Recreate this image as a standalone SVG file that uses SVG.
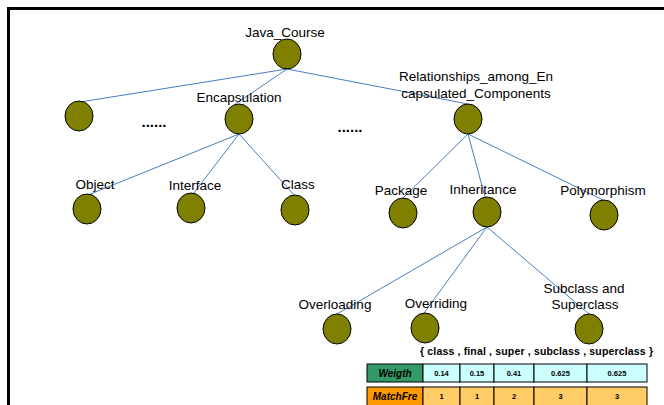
<svg xmlns="http://www.w3.org/2000/svg" width="664" height="405" viewBox="0 0 664 405">
<defs>
<style>
.n{fill:#808000;stroke:#000;stroke-width:1}
.t{font-family:"Liberation Sans",Arial,sans-serif;font-size:13.5px;fill:#000}
.c{stroke:#4a7ebb;stroke-width:1;fill:none}
.cell{stroke:#000;stroke-width:1}
.hd{font-family:"Liberation Sans",Arial,sans-serif;font-size:10px;font-weight:bold;font-style:italic;fill:#000}
.v{font-family:"Liberation Sans",Arial,sans-serif;font-size:7.5px;font-weight:bold;fill:#000}
.set{font-family:"Liberation Sans",Arial,sans-serif;font-size:10.5px;font-weight:bold;fill:#000}
.dot{font-family:"Liberation Sans",Arial,sans-serif;font-size:15px;font-weight:bold;fill:#000}
</style>
</defs>
<rect width="664" height="405" fill="#fff"/>
<path d="M8.5,405 V8.5 H664" fill="none" stroke="#000" stroke-width="3"/>
<g id="connectors">
<line class="c" x1="287" y1="69" x2="80" y2="102"/>
<line class="c" x1="287" y1="69" x2="234" y2="105"/>
<line class="c" x1="287" y1="69" x2="468" y2="104"/>
<line class="c" x1="239" y1="134" x2="88" y2="195"/>
<line class="c" x1="239" y1="134" x2="193" y2="194"/>
<line class="c" x1="239" y1="134" x2="295" y2="196"/>
<line class="c" x1="468" y1="134" x2="403" y2="198"/>
<line class="c" x1="468" y1="134" x2="485" y2="197"/>
<line class="c" x1="468" y1="134" x2="603" y2="200"/>
<line class="c" x1="487" y1="227" x2="337" y2="314"/>
<line class="c" x1="487" y1="227" x2="424" y2="313"/>
<line class="c" x1="487" y1="227" x2="589" y2="314"/>
</g>
<g id="java_course"><ellipse class="n" cx="287" cy="54" rx="14" ry="15"/><text class="t" x="285" y="37" text-anchor="middle">Java_Course</text></g>
<g id="unnamed"><ellipse class="n" cx="79" cy="116" rx="14" ry="15"/></g>
<g id="dots1"><text class="dot" x="154" y="127" text-anchor="middle">......</text></g>
<g id="encapsulation"><ellipse class="n" cx="239" cy="119" rx="14" ry="15"/><text class="t" x="239" y="102" text-anchor="middle">Encapsulation</text></g>
<g id="dots2"><text class="dot" x="350" y="132" text-anchor="middle">......</text></g>
<g id="relationships"><ellipse class="n" cx="468" cy="119" rx="14" ry="15"/><text class="t" x="476" y="81" text-anchor="middle">Relationships_among_En</text><text class="t" x="476" y="98" text-anchor="middle">capsulated_Components</text></g>
<g id="object"><ellipse class="n" cx="87" cy="209" rx="14" ry="15"/><text class="t" x="95" y="189" text-anchor="middle">Object</text></g>
<g id="interface"><ellipse class="n" cx="191" cy="208" rx="14" ry="15"/><text class="t" x="195" y="190" text-anchor="middle">Interface</text></g>
<g id="class"><ellipse class="n" cx="295" cy="210" rx="14" ry="15"/><text class="t" x="298" y="189" text-anchor="middle">Class</text></g>
<g id="package"><ellipse class="n" cx="403" cy="213" rx="14" ry="15"/><text class="t" x="401" y="195" text-anchor="middle">Package</text></g>
<g id="inheritance"><ellipse class="n" cx="487" cy="212" rx="14" ry="15"/><text class="t" x="483" y="194" text-anchor="middle">Inheritance</text></g>
<g id="polymorphism"><ellipse class="n" cx="604" cy="215" rx="14" ry="15"/><text class="t" x="603" y="195" text-anchor="middle">Polymorphism</text></g>
<g id="overloading"><ellipse class="n" cx="337" cy="329" rx="14" ry="15"/><text class="t" x="335" y="309" text-anchor="middle">Overloading</text></g>
<g id="overriding"><ellipse class="n" cx="425" cy="328" rx="14" ry="15"/><text class="t" x="436" y="308" text-anchor="middle">Overriding</text></g>
<g id="subclass"><ellipse class="n" cx="589" cy="329" rx="14" ry="15"/><text class="t" x="584" y="293" text-anchor="middle">Subclass and</text><text class="t" x="585" y="309" text-anchor="middle">Superclass</text></g>
<g id="keywords"><text class="set" x="420" y="355" textLength="233" lengthAdjust="spacing">{ class  , final  ,  super  ,  subclass  ,  superclass }</text></g>
<g id="table">
<rect class="cell" x="367" y="364" width="56" height="18" fill="#339966"/>
<rect class="cell" x="423" y="364" width="37" height="18" fill="#ccffff"/>
<rect class="cell" x="460" y="364" width="34" height="18" fill="#ccffff"/>
<rect class="cell" x="494" y="364" width="40" height="18" fill="#ccffff"/>
<rect class="cell" x="534" y="364" width="53" height="18" fill="#ccffff"/>
<rect class="cell" x="587" y="364" width="60" height="18" fill="#ccffff"/>
<text class="hd" x="395" y="377" text-anchor="middle">Weigth</text>
<text class="v" x="441.5" y="376" text-anchor="middle">0.14</text>
<text class="v" x="477" y="376" text-anchor="middle">0.15</text>
<text class="v" x="514" y="376" text-anchor="middle">0.41</text>
<text class="v" x="560.5" y="376" text-anchor="middle">0.625</text>
<text class="v" x="617" y="376" text-anchor="middle">0.625</text>
<rect class="cell" x="367" y="387" width="56" height="20" fill="#ff9900"/>
<rect class="cell" x="423" y="387" width="37" height="20" fill="#ffcc66"/>
<rect class="cell" x="460" y="387" width="34" height="20" fill="#ffcc66"/>
<rect class="cell" x="494" y="387" width="40" height="20" fill="#ffcc66"/>
<rect class="cell" x="534" y="387" width="53" height="20" fill="#ffcc66"/>
<rect class="cell" x="587" y="387" width="60" height="20" fill="#ffcc66"/>
<text class="hd" x="395" y="400" text-anchor="middle">MatchFre</text>
<text class="v" x="441.5" y="399" text-anchor="middle">1</text>
<text class="v" x="477" y="399" text-anchor="middle">1</text>
<text class="v" x="514" y="399" text-anchor="middle">2</text>
<text class="v" x="560.5" y="399" text-anchor="middle">3</text>
<text class="v" x="617" y="399" text-anchor="middle">3</text>
</g>
</svg>
